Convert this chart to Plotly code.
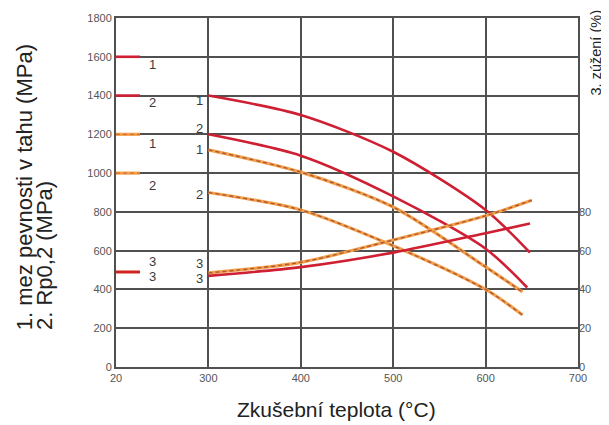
import plotly.graph_objects as go

# ---------------- data ----------------
temps_s1 = [300, 400, 500, 600, 648]
tensile_a = [1400, 1300, 1110, 810, 590]          # 1. solid (red)
temps_s2 = [300, 400, 500, 600, 645]
yield_a = [1200, 1090, 880, 610, 410]             # 2. solid (red)
temps_d1 = [300, 400, 500, 600, 640]
tensile_b = [1120, 1005, 825, 516, 387]           # 1. dashed (orange)
temps_d2 = [300, 400, 500, 600, 640]
yield_b = [900, 810, 625, 400, 268]               # 2. dashed (orange)
temps_s3 = [300, 400, 500, 600, 648]
reduction_a = [47, 51.5, 59, 69, 74]              # 3. solid (%)
temps_d3 = [300, 400, 500, 600, 650]
reduction_b = [48.5, 54, 65.5, 78, 86]            # 3. dashed (%)

room_temp = 20
room_tensile_a = 1600
room_yield_a = 1400
room_tensile_b = 1200
room_yield_b = 1000
room_reduction = 49

x_tickvals_temp = [20, 300, 400, 500, 600, 700]
x_ticktext = ["20", "300", "400", "500", "600", "700"]
y_ticks = [0, 200, 400, 600, 800, 1000, 1200, 1400, 1600, 1800]
y2_ticks = [0, 20, 40, 60, 80]

# ---------------- styles ----------------
RED = "#cf1f33"
ORANGE = "#f3a24a"
DASH_DARK = "#b0563a"
GRID = "#505050"
STUB_LEN = 26
FONT = "Liberation Sans, Arial, sans-serif"


def axis_x(t):
    # broken axis: 20 °C drawn one division left of 300 °C
    return 200 if t == 20 else t


fig = go.Figure()


def solid(xs, ys, yaxis="y"):
    fig.add_trace(go.Scatter(x=[axis_x(t) for t in xs], y=ys, mode="lines",
                             line=dict(color=RED, width=2.6, shape="spline", smoothing=0.8),
                             yaxis=yaxis, hoverinfo="skip", showlegend=False))


def dashed(xs, ys, yaxis="y"):
    xx = [axis_x(t) for t in xs]
    fig.add_trace(go.Scatter(x=xx, y=ys, mode="lines",
                             line=dict(color=ORANGE, width=3.2, shape="spline", smoothing=0.8),
                             yaxis=yaxis, hoverinfo="skip", showlegend=False))
    fig.add_trace(go.Scatter(x=xx, y=ys, mode="lines",
                             line=dict(color=DASH_DARK, width=1.4, dash="4px,3px",
                                       shape="spline", smoothing=0.8),
                             yaxis=yaxis, hoverinfo="skip", showlegend=False))


def stub(value, kind, yaxis="y"):
    x0 = axis_x(room_temp)
    xs = [x0, x0 + STUB_LEN]
    ys = [value, value]
    if kind == "solid":
        fig.add_trace(go.Scatter(x=xs, y=ys, mode="lines", line=dict(color=RED, width=2.6),
                                 yaxis=yaxis, hoverinfo="skip", showlegend=False))
    else:
        fig.add_trace(go.Scatter(x=xs, y=ys, mode="lines", line=dict(color=ORANGE, width=3.2),
                                 yaxis=yaxis, hoverinfo="skip", showlegend=False))
        fig.add_trace(go.Scatter(x=xs, y=ys, mode="lines",
                                 line=dict(color="#e06a3a", width=1.4, dash="4px,3px"),
                                 yaxis=yaxis, hoverinfo="skip", showlegend=False))


# curves
dashed(temps_d2, yield_b)
dashed(temps_d1, tensile_b)
dashed(temps_d3, reduction_b, "y2")
solid(temps_s1, tensile_a)
solid(temps_s2, yield_a)
solid(temps_s3, reduction_a, "y2")

# room temperature stubs
stub(room_tensile_a, "solid")
stub(room_yield_a, "solid")
stub(room_tensile_b, "dashed")
stub(room_yield_b, "dashed")
stub(room_reduction, "dashed", "y2")
stub(room_reduction, "solid", "y2")

# curve labels
LABEL_FONT = dict(family=FONT, size=13, color="#3a3a3a")
start_labels = [
    ("1", tensile_a[0], "y", -5),
    ("2", yield_a[0], "y", 6),
    ("1", tensile_b[0], "y", 0),
    ("2", yield_b[0], "y", -2),
    ("3", reduction_b[0], "y2", 9),
    ("3", reduction_a[0], "y2", -3),
]
for txt, val, yref, ys in start_labels:
    fig.add_annotation(x=axis_x(temps_s1[0]), y=val, xref="x", yref=yref, text=txt,
                       showarrow=False, xanchor="right", xshift=-3, yshift=ys, font=LABEL_FONT)

stub_labels = [
    ("1", room_tensile_a, "y", -8),
    ("2", room_yield_a, "y", -7),
    ("1", room_tensile_b, "y", -9),
    ("2", room_yield_b, "y", -12),
    ("3", room_reduction, "y2", 10),
    ("3", room_reduction, "y2", -5),
]
for txt, val, yref, ys in stub_labels:
    fig.add_annotation(x=axis_x(room_temp) + STUB_LEN + 14, y=val, xref="x", yref=yref, text=txt,
                       showarrow=False, xanchor="center", yshift=ys, font=LABEL_FONT)

# axis titles
fig.add_annotation(text="1. mez pevnosti v tahu (MPa)", xref="paper", yref="paper",
                   x=-0.199, y=0.1, xanchor="center", yanchor="bottom", textangle=-90,
                   showarrow=False, font=dict(family=FONT, size=22, color="#222"))
fig.add_annotation(text="2. Rp0,2 (MPa)", xref="paper", yref="paper",
                   x=-0.155, y=0.1, xanchor="center", yanchor="bottom", textangle=-90,
                   showarrow=False, font=dict(family=FONT, size=22, color="#222"))
fig.add_annotation(text="3. zúžení (%)", xref="paper", yref="paper",
                   x=1.039, y=1.026, xanchor="center", yanchor="top", textangle=-90,
                   showarrow=False, font=dict(family=FONT, size=14.5, color="#222"))
fig.add_annotation(text="Zkušební teplota (°C)", xref="paper", yref="paper",
                   x=0.478, y=-0.123, xanchor="center", yanchor="middle",
                   showarrow=False, font=dict(family=FONT, size=21, color="#222"))

TICK_FONT = dict(family=FONT, size=11, color="#555")
fig.update_layout(
    width=601, height=417,
    margin=dict(l=108, r=31, t=10, b=58, autoexpand=False),
    paper_bgcolor="white", plot_bgcolor="white",
    showlegend=False,
    xaxis=dict(range=[200, 700], tickvals=[axis_x(t) for t in x_tickvals_temp],
               ticktext=x_ticktext, showgrid=True, gridcolor=GRID, gridwidth=2,
               showline=True, linecolor=GRID, linewidth=2, mirror=True, automargin=False,
               zeroline=False, tickfont=TICK_FONT, ticks=""),
    yaxis=dict(range=[0, 1800], tickvals=y_ticks, showgrid=True, gridcolor=GRID,
               gridwidth=2, showline=True, linecolor=GRID, linewidth=2, mirror=True,
               automargin=False, zeroline=False, tickfont=TICK_FONT, ticks=""),
    yaxis2=dict(range=[0, 180], tickvals=y2_ticks, overlaying="y", side="right",
                automargin=False, showgrid=False, zeroline=False, showline=False,
                tickfont=TICK_FONT, ticks=""),
)

fig.write_html("out.html")
